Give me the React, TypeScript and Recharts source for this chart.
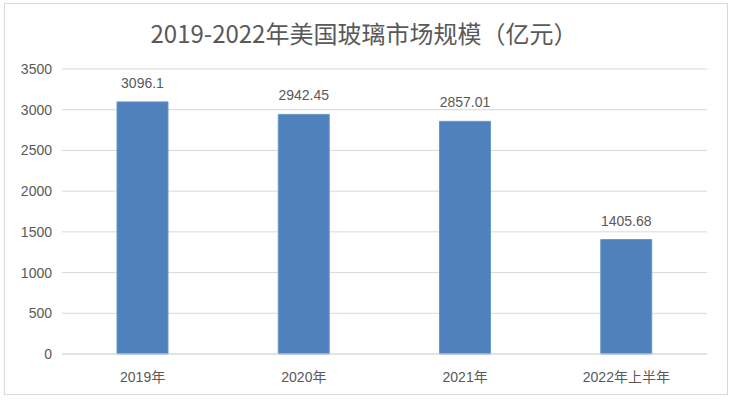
import React from 'react';
import { BarChart, Bar, XAxis, YAxis, CartesianGrid, LabelList } from 'recharts';

const categories = ['2019年', '2020年', '2021年', '2022年上半年'];
const values = [3096.1, 2942.45, 2857.01, 1405.68];
const yTicks = [0, 500, 1000, 1500, 2000, 2500, 3000, 3500];

const data = categories.map((name, i) => ({ name, value: values[i] }));

const font = '"Liberation Sans", "Noto Sans CJK SC", sans-serif';
const textColor = '#595959';

const App: React.FC = () => {
  return (
    <div style={{ position: 'relative', width: 734, height: 402, background: '#fff', fontFamily: font }}>
      <style>{'body{margin:0;}'}</style>
      <div
        style={{
          position: 'absolute',
          left: 4,
          top: 3,
          width: 722,
          height: 390,
          border: '1px solid #d9d9d9',
        }}
      />
      <div
        style={{
          position: 'absolute',
          left: 0,
          top: 15,
          width: 728,
          textAlign: 'center',
          fontSize: 24,
          color: textColor,
          fontFamily: '"Noto Sans CJK SC", sans-serif',
        }}
      >
        2019-2022年美国玻璃市场规模（亿元）
      </div>
      <div style={{ position: 'absolute', left: 0, top: 0 }}>
        <BarChart
          width={734}
          height={402}
          data={data}
          margin={{ top: 69, right: 27, left: 0, bottom: 18 }}
        >
          <CartesianGrid vertical={false} stroke="#d9d9d9" />
          <XAxis
            dataKey="name"
            axisLine={{ stroke: '#d9d9d9' }}
            tickLine={false}
            tickMargin={12}
            tick={{ fill: textColor, fontSize: 14, fontFamily: font }}
          />
          <YAxis
            width={62}
            domain={[0, 3500]}
            ticks={yTicks}
            axisLine={false}
            tickLine={false}
            tickSize={0}
            tickMargin={10}
            tick={{ fill: textColor, fontSize: 14, fontFamily: font }}
          />
          <Bar dataKey="value" fill="#4F81BD" stroke="#6b96cc" strokeWidth={1} barSize={51} isAnimationActive={false}>
            <LabelList dataKey="value" position="top" offset={14} fill={textColor} fontSize={14} fontFamily={font} />
          </Bar>
        </BarChart>
      </div>
    </div>
  );
};

export default App;
